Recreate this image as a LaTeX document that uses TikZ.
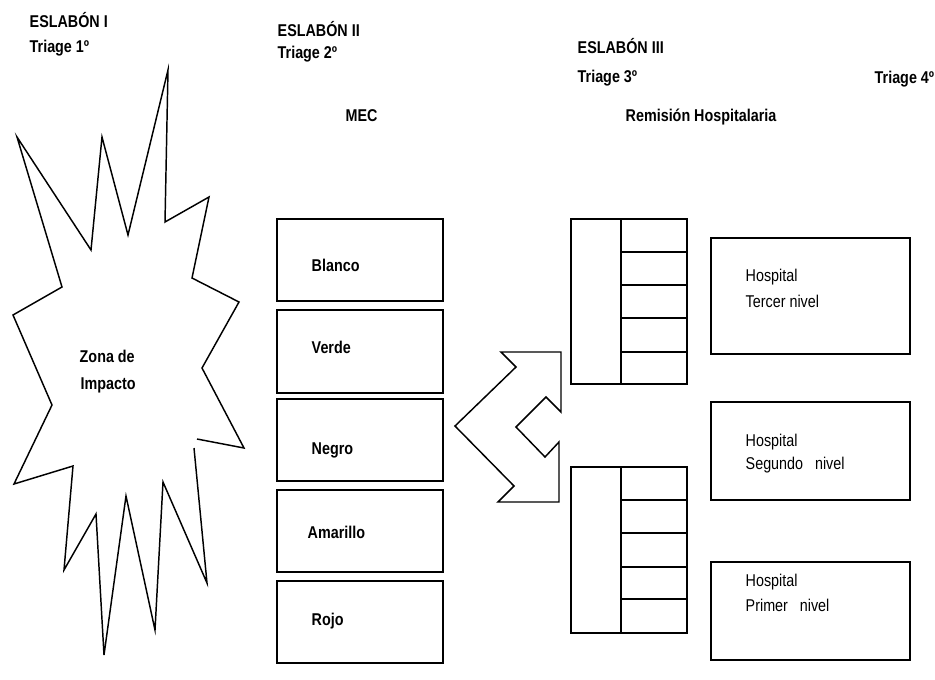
\documentclass[tikz,border=0pt]{standalone}
\usepackage{fontspec}
\setmainfont{Liberation Sans}[FakeStretch=0.84]
\usetikzlibrary{fit}
\begin{document}
\begin{tikzpicture}[x=0.75pt,y=-0.75pt,line width=1.1pt,line join=miter,
  lbl/.style={anchor=west,inner sep=0pt,font=\fontsize{12.8}{14}\selectfont\bfseries},
  rlbl/.style={anchor=west,inner sep=0pt,font=\fontsize{12.8}{14}\selectfont},
  boxr/.style={draw,inner sep=0pt}]
\useasboundingbox (0,0) rectangle (935,679);
% headers
\node[lbl] (e1) at (29,20) {ESLABÓN I};
\node[lbl] (t1) at (29,48) {Triage 1º};
\node[lbl] (e2) at (277,29) {ESLABÓN II};
\node[lbl] (t2) at (277,54) {Triage 2º};
\node[lbl] (e3) at (577,46) {ESLABÓN III};
\node[lbl] (t3) at (577,78) {Triage 3º};
\node[lbl] (t4) at (874,79) {Triage 4º};
\node[lbl] (mec) at (345,116) {MEC};
\node[lbl] (rh) at (625,117) {Remisión Hospitalaria};
% star
\draw (194,448) -- (207,583) -- (163,482) -- (155,630) -- (126,496) -- (104,655)
  -- (96,514) -- (64,570) -- (73,466) -- (14,484) -- (52,405) -- (13,315)
  -- (62,287) -- (17,137) -- (91,250) -- (102,137) -- (128,235) -- (168,70)
  -- (165,222) -- (209,197) -- (192,278) -- (239,302) -- (202,368) -- (244,448)
  -- (197,439);
\node[lbl] (z1) at (79,356) {Zona de};
\node[lbl] (z2) at (80,385) {Impacto};
% MEC boxes
\node[boxr,fit={(277,219) (443,301)}] (b1) {};
\node[boxr,fit={(277,310) (443,393)}] (b2) {};
\node[boxr,fit={(277,399) (443,481)}] (b3) {};
\node[boxr,fit={(277,490) (443,572)}] (b4) {};
\node[boxr,fit={(277,581) (443,663)}] (b5) {};
\node[lbl] (l1) at (311,265) {Blanco};
\node[lbl] (l2) at (311,347) {Verde};
\node[lbl] (l3) at (311,450) {Negro};
\node[lbl] (l4) at (307,532) {Amarillo};
\node[lbl] (l5) at (311,621) {Rojo};
% double arrow
\draw (501,352) -- (516,367) -- (455,426) -- (514,486) -- (498,502) -- (559,502)
  -- (559,442) -- (545,457) -- (516,427) -- (546,397) -- (561,412) -- (561,352) -- cycle;
% grids
\node[boxr,fit={(571,219) (621,384)}] (g1a) {};
\node[boxr,fit={(621,219) (687,252)}] (g1r1) {};
\node[boxr,fit={(621,252) (687,285)}] (g1r2) {};
\node[boxr,fit={(621,285) (687,318)}] (g1r3) {};
\node[boxr,fit={(621,318) (687,352)}] (g1r4) {};
\node[boxr,fit={(621,352) (687,384)}] (g1r5) {};
\node[boxr,fit={(571,467) (621,633)}] (g2a) {};
\node[boxr,fit={(621,467) (687,500)}] (g2r1) {};
\node[boxr,fit={(621,500) (687,533)}] (g2r2) {};
\node[boxr,fit={(621,533) (687,567)}] (g2r3) {};
\node[boxr,fit={(621,567) (687,599)}] (g2r4) {};
\node[boxr,fit={(621,599) (687,633)}] (g2r5) {};
% hospitals
\node[boxr,fit={(711,238) (910,354)}] (h1) {};
\node[boxr,fit={(711,402) (910,500)}] (h2) {};
\node[boxr,fit={(711,562) (910,660)}] (h3) {};
\node[rlbl] (h1a) at (745,277) {Hospital};
\node[rlbl] (h1b) at (745,301) {Tercer nivel};
\node[rlbl] (h2a) at (745,442) {Hospital};
\node[rlbl] (h2b) at (745,465) {Segundo\ \ \ nivel};
\node[rlbl] (h3a) at (745,582) {Hospital};
\node[rlbl] (h3b) at (745,605) {Primer\ \ \ nivel};
\end{tikzpicture}
\end{document}
